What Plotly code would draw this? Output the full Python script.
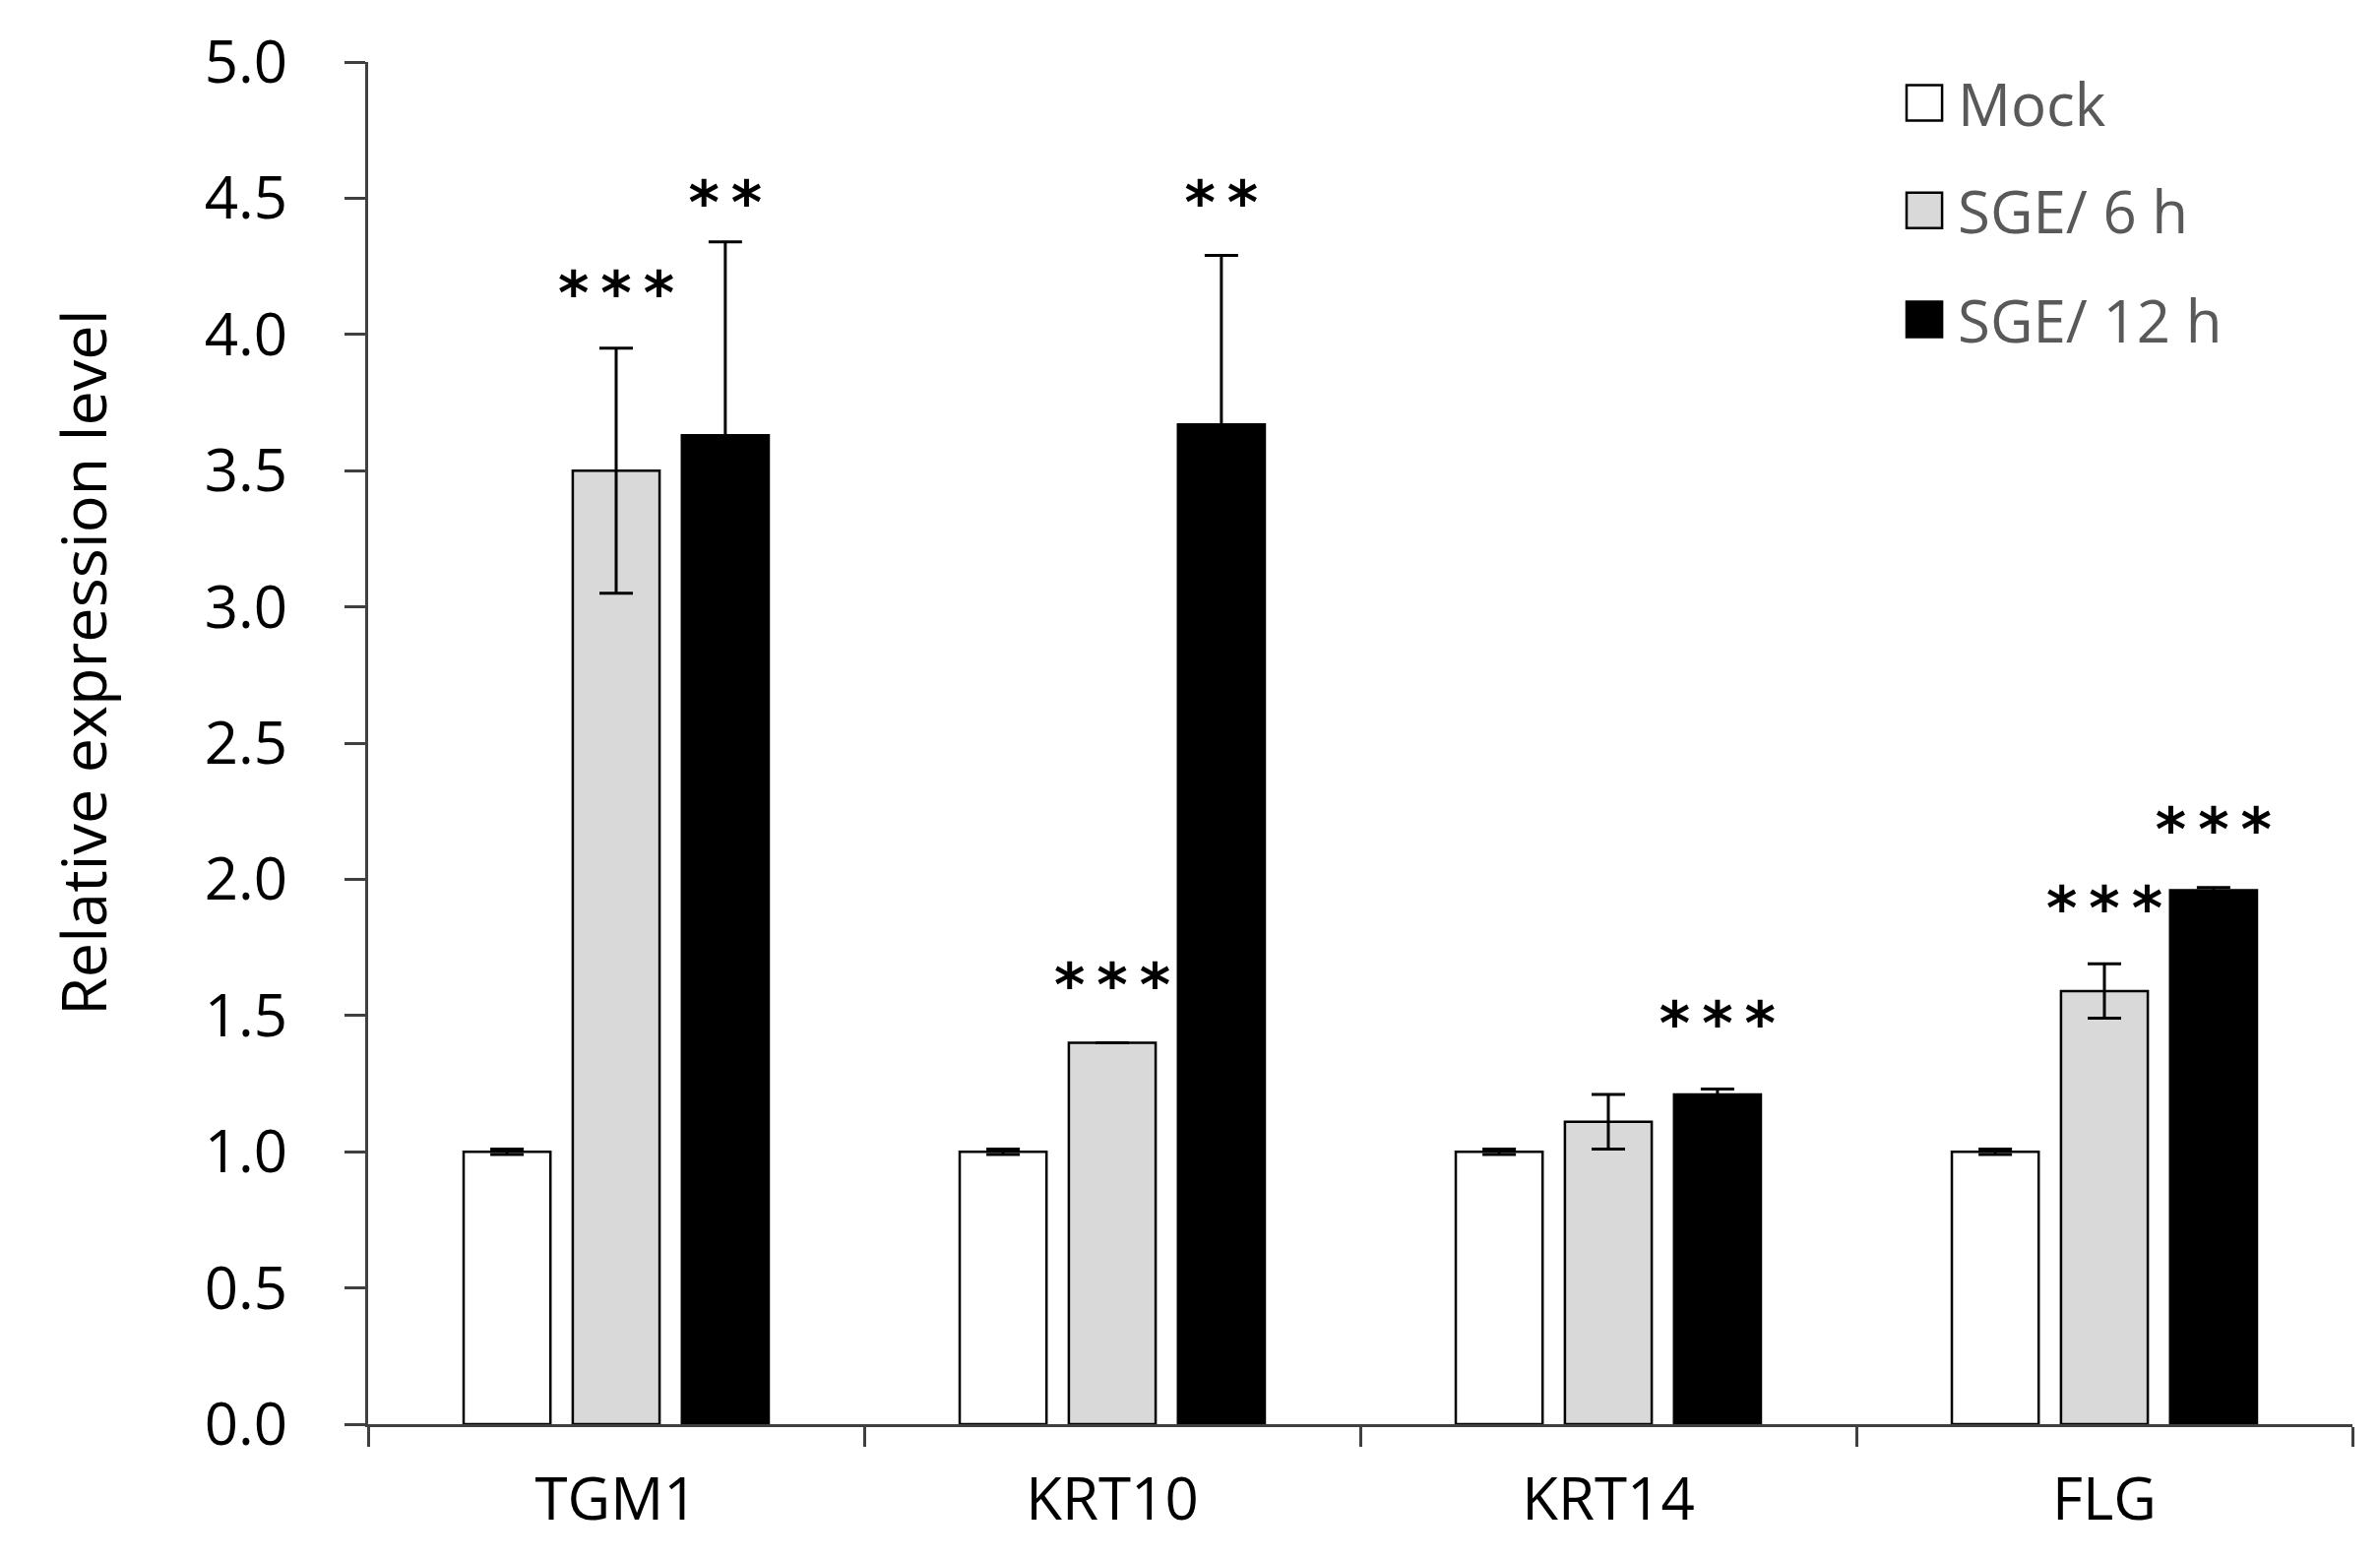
import plotly.graph_objects as go

genes = ["TGM1", "KRT10", "KRT14", "FLG"]
series = ["Mock", "SGE/ 6 h", "SGE/ 12 h"]

mock = [1.00, 1.00, 1.00, 1.00]
mock_err = [0.01, 0.01, 0.01, 0.01]
sge6 = [3.50, 1.40, 1.11, 1.59]
sge6_err = [0.45, 0.0, 0.10, 0.10]
sge12 = [3.63, 3.67, 1.21, 1.96]
sge12_err = [0.71, 0.62, 0.02, 0.01]

stars6 = ["***", "***", "", "***"]
stars6_y = [4.19, 1.65, None, 1.93]
stars12 = ["**", "**", "***", "***"]
stars12_y = [4.52, 4.52, 1.51, 2.22]

y_ticks = [0.0, 0.5, 1.0, 1.5, 2.0, 2.5, 3.0, 3.5, 4.0, 4.5, 5.0]

FONT = "Open Sans, sans-serif"
slot = 0.22
bar_w = 0.175
star_dy = -0.06   # asterisks sit high in the line box
idx = list(range(len(genes)))

fills = ["white", "#d9d9d9", "black"]
values = [mock, sge6, sge12]
errors = [mock_err, sge6_err, sge12_err]

fig = go.Figure()
for k, (name, vals, errs, fill) in enumerate(zip(series, values, errors, fills)):
    off = (k - 1) * slot
    fig.add_trace(go.Bar(
        x=[i + off for i in idx], y=vals, width=bar_w, name=name,
        marker=dict(color=fill, line=dict(color="black", width=2.5)),
        error_y=dict(type="data", array=errs, color="black", thickness=3, width=17),
        showlegend=False))

for k, (txt, ys) in [(1, (stars6, stars6_y)), (2, (stars12, stars12_y))]:
    off = (k - 1) * slot
    fig.add_trace(go.Scatter(
        x=[i + off for i in idx],
        y=[None if v is None else v + star_dy for v in ys],
        text=["\u2009".join(t) for t in txt], mode="text",
        textfont=dict(family="DejaVu Sans", size=60, color="black", weight="bold"),
        showlegend=False, hoverinfo="skip"))

# manual legend (Excel-style large swatches)
leg_y = [0.970, 0.891, 0.811]
for name, fill, yy in zip(series, fills, leg_y):
    fig.add_shape(type="rect", xref="paper", yref="paper",
                  x0=0.7753, x1=0.7932, y0=yy - 0.013, y1=yy + 0.013,
                  fillcolor=fill, line=dict(color="black", width=2.5))
    fig.add_annotation(x=0.800, y=yy, xref="paper", yref="paper", text=name,
                       showarrow=False, xanchor="left", yanchor="middle",
                       font=dict(family=FONT, size=60, color="#595959"))

fig.add_annotation(x=-0.144, y=0.559, xref="paper", yref="paper",
                   text="Relative expression level", textangle=-90,
                   showarrow=False, xanchor="center", yanchor="middle",
                   font=dict(family=FONT, size=63, color="black"))

fig.update_layout(
    width=2418, height=1584,
    margin=dict(l=366, r=36, t=55, b=145),
    paper_bgcolor="white", plot_bgcolor="white",
    font=dict(family=FONT, size=60, color="#404040"),
    xaxis=dict(range=[-0.5, 3.5], tickvals=idx, ticktext=genes, ticks="",
               showline=True, linecolor="#404040", linewidth=3,
               showgrid=False, zeroline=False, ticklabelstandoff=22,
               minor=dict(tickvals=[-0.5, 0.5, 1.5, 2.5, 3.5], ticks="outside",
                          ticklen=20, tickwidth=3, tickcolor="#404040"),
               tickfont=dict(color="black")),
    yaxis=dict(range=[0, 5], tickvals=y_ticks, tickformat=".1f",
               ticks="outside", ticklen=21, tickwidth=3, tickcolor="#404040",
               showline=True, linecolor="#404040", linewidth=3,
               showgrid=False, zeroline=False, ticklabelstandoff=46,
               tickfont=dict(color="black")),
)

fig.write_html("out.html")
